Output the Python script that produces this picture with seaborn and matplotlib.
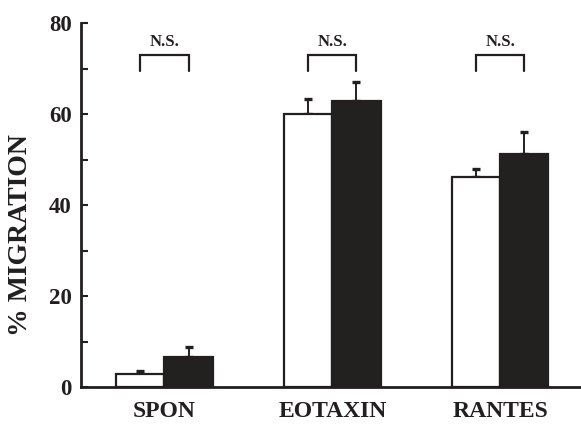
import matplotlib
matplotlib.use("Agg")
import matplotlib.pyplot as plt
import seaborn as sns
import pandas as pd
import numpy as np

categories = ["SPON", "EOTAXIN", "RANTES"]
groups = ["control", "treated"]
control_means = [2.9, 59.9, 46.2]
control_err = [0.6, 3.4, 1.7]
treated_means = [6.7, 62.9, 51.2]
treated_err = [2.0, 4.1, 4.8]
y_ticks = [0, 20, 40, 60, 80]
sig_labels = ["N.S.", "N.S.", "N.S."]

df = pd.DataFrame({
    "cat": categories * 2,
    "grp": [groups[0]] * 3 + [groups[1]] * 3,
    "val": control_means + treated_means,
})

sns.set_style("white")
plt.rcParams["font.family"] = ["Liberation Serif", "DejaVu Serif"]
plt.rcParams["font.weight"] = "bold"

INK = "#231f20"
fig = plt.figure(figsize=(5.81, 4.24), dpi=100)
ax = fig.add_axes([81 / 581, 1 - 387 / 424, 1 - 81 / 581, (387 - 23) / 424])

sns.barplot(data=df, x="cat", y="val", hue="grp", order=categories,
            hue_order=groups, palette=["white", INK], width=0.575,
            gap=0, edgecolor=INK, linewidth=1.6, errorbar=None,
            legend=False, ax=ax, zorder=2)

# bar centers from patches
bars = [p for p in ax.patches if p.get_height() > 0]
bars.sort(key=lambda p: p.get_x())
centers = [p.get_x() + p.get_width() / 2 for p in bars]
ctrl_x = centers[0::2]
trt_x = centers[1::2]

ax.errorbar(ctrl_x, control_means, yerr=[np.zeros(3), control_err], fmt="none",
            ecolor=INK, elinewidth=1.4, capsize=3, capthick=2.4, zorder=1)
ax.errorbar(trt_x, treated_means, yerr=[np.zeros(3), treated_err], fmt="none",
            ecolor=INK, elinewidth=1.4, capsize=3, capthick=2.4, zorder=1)

# brackets
for x0, x1, lab in zip(ctrl_x, trt_x, sig_labels):
    ax.plot([x0, x0, x1, x1], [69.5, 73.0, 73.0, 69.5], color=INK, lw=1.6,
            solid_joinstyle="miter", clip_on=False)
    ax.text((x0 + x1) / 2, 74.0, lab, ha="center", va="bottom", fontsize=12,
            fontweight="bold", color=INK)

ax.set_xlim(-0.497, 2.482)
ax.set_ylim(0, 80)
ax.set_yticks(np.arange(0, 81, 10))
ax.set_yticklabels([str(v) if v in y_ticks else "" for v in range(0, 81, 10)])
ax.tick_params(axis="y", direction="in", length=5, width=1.5, labelsize=16.5,
               pad=6.5, left=True, colors=INK)
ax.tick_params(axis="x", length=0, labelsize=17, pad=10, colors=INK)
for lab in ax.get_yticklabels() + ax.get_xticklabels():
    lab.set_fontweight("bold")

ax.set_xlabel("")
ax.set_ylabel("% MIGRATION", fontsize=20, fontweight="bold", color=INK)
ax.yaxis.set_label_coords(-0.096, 0.4176)

for s in ["top", "right"]:
    ax.spines[s].set_visible(False)
for s in ["left", "bottom"]:
    ax.spines[s].set_linewidth(2)
    ax.spines[s].set_color(INK)

fig.savefig("out.png", dpi=100)
